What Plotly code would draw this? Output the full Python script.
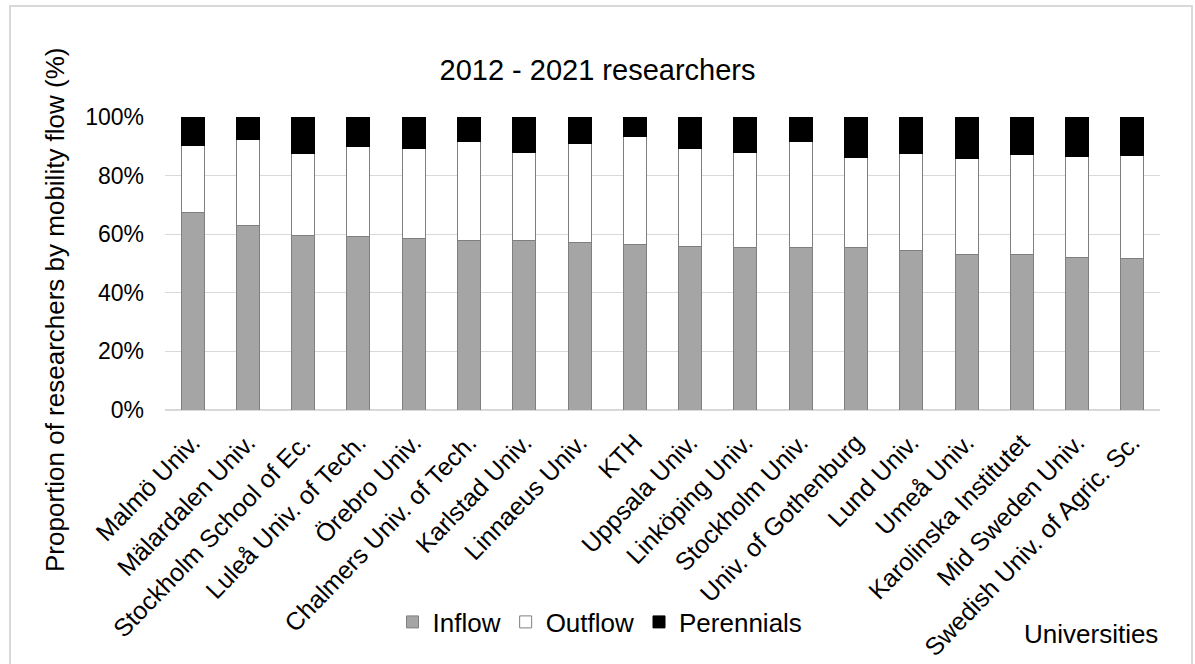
import plotly.graph_objects as go

universities = [
    "Malmö Univ.", "Mälardalen Univ.", "Stockholm School of Ec.", "Luleå Univ. of Tech.",
    "Örebro Univ.", "Chalmers Univ. of Tech.", "Karlstad Univ.", "Linnaeus Univ.", "KTH",
    "Uppsala Univ.", "Linköping Univ.", "Stockholm Univ.", "Univ. of Gothenburg",
    "Lund Univ.", "Umeå Univ.", "Karolinska Institutet", "Mid Sweden Univ.",
    "Swedish Univ. of Agric. Sc.",
]
inflow = [67.3, 62.9, 59.5, 59.3, 58.7, 58.0, 57.8, 57.2, 56.4,
          55.7, 55.5, 55.3, 55.3, 54.5, 53.2, 53.2, 52.0, 51.8]
outflow = [23.0, 29.4, 28.2, 30.6, 30.6, 33.7, 30.1, 33.9, 37.1,
           33.6, 32.4, 36.5, 30.8, 33.0, 32.5, 34.1, 34.6, 35.0]
perennials = [9.7, 7.7, 12.3, 10.1, 10.7, 8.3, 12.1, 8.9, 6.5,
              10.7, 12.1, 8.2, 13.9, 12.5, 14.3, 12.7, 13.4, 13.2]

FONT = "Liberation Sans, Arial, sans-serif"
EDGE = "#7f7f7f"

# plot-area geometry in pixels (used only to place paper-referenced text)
L, R, T, B = 165, 1160, 117, 410
PW, PH = R - L, B - T


def px(xpix):
    return (xpix - L) / PW


def py(ypix):
    return (B - ypix) / PH


fig = go.Figure()
fig.add_trace(go.Bar(name="Inflow", x=universities, y=inflow,
                     marker=dict(color="#a5a5a5", line=dict(color=EDGE, width=1))))
fig.add_trace(go.Bar(name="Outflow", x=universities, y=outflow,
                     marker=dict(color="#ffffff", line=dict(color=EDGE, width=1))))
fig.add_trace(go.Bar(name="Perennials", x=universities, y=perennials,
                     marker=dict(color="#000000", line=dict(color="#000000", width=1))))

fig.update_layout(
    barmode="stack",
    bargap=0.584,
    width=1195, height=664,
    margin=dict(l=L, r=1195 - R, t=T, b=664 - B, autoexpand=False),
    paper_bgcolor="white", plot_bgcolor="white",
    font=dict(family=FONT, color="#000000", size=22),
    title=dict(text="2012 - 2021 researchers", x=0.5, xanchor="center",
               y=1 - 70 / 664, yanchor="middle",
               font=dict(size=29, family=FONT, color="#000000")),
    legend=dict(orientation="h", x=px(600), xanchor="center", y=py(622), yanchor="middle",
                font=dict(size=26, family=FONT), traceorder="normal",
                itemwidth=30, bgcolor="rgba(0,0,0,0)"),
    showlegend=True,
)
fig.update_xaxes(tickangle=-46, showgrid=False, showline=False, ticks="", automargin=False,
                 tickfont=dict(size=25, family=FONT), ticklabelstandoff=12)
fig.update_yaxes(range=[0, 100], dtick=20, ticksuffix="%", showgrid=True, automargin=False,
                 gridcolor="#d9d9d9", gridwidth=1, zeroline=True, zerolinecolor="#d9d9d9",
                 zerolinewidth=1.5, showline=False, ticks="",
                 tickfont=dict(size=23, family=FONT), ticklabelstandoff=20)

fig.add_annotation(text="Proportion of researchers by mobility flow (%)",
                   xref="paper", yref="paper", x=px(55), y=py(310),
                   xanchor="center", yanchor="middle", textangle=-90, showarrow=False,
                   font=dict(size=26, family=FONT, color="#000000"))
fig.add_annotation(text="Universities", xref="paper", yref="paper",
                   x=px(1160), y=py(634),
                   xanchor="right", yanchor="middle", showarrow=False,
                   font=dict(size=26, family=FONT, color="#000000"))

# outer chart frame (bottom edge lies outside the picture, as in the reference)
fig.add_shape(type="rect", xref="paper", yref="paper",
              x0=px(10), x1=px(1192), y0=py(700), y1=py(6),
              line=dict(color="#d9d9d9", width=2), fillcolor="rgba(0,0,0,0)", layer="below")

fig.write_html("out.html")
